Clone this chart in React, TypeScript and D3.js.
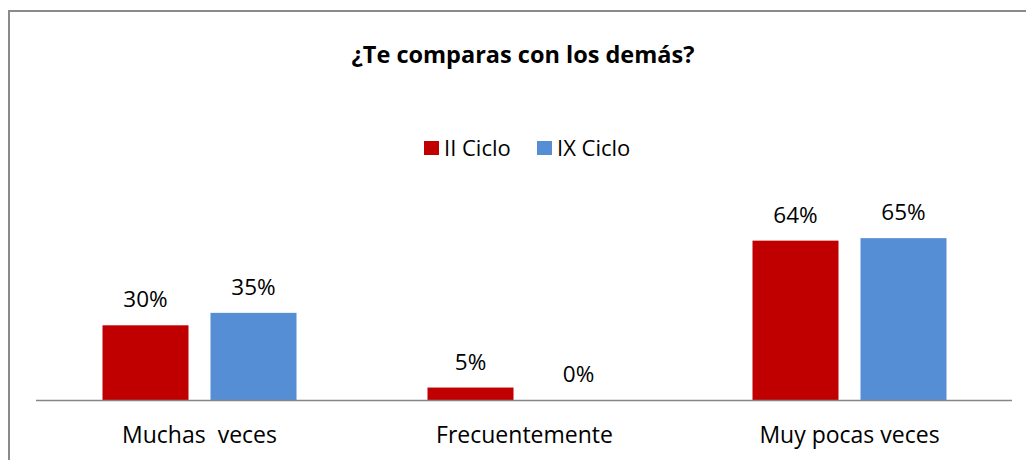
import React from "react";
import * as d3 from "d3";

const categories = ["Muchas  veces", "Frecuentemente", "Muy pocas veces"];
const seriesNames = ["II Ciclo", "IX Ciclo"];
const iiCiclo = [0.30, 0.05, 0.64];
const ixCiclo = [0.35, 0.0, 0.65];
const labelsII = ["30%", "5%", "64%"];
const labelsIX = ["35%", "0%", "65%"];
const colors = ["#C00000", "#558ED5"];
const titleText = "¿Te comparas con los demás?";

const W = 1026;
const H = 460;
const FONT = "'Open Sans', 'DejaVu Sans', sans-serif";

export default function App() {
  const values = [iiCiclo, ixCiclo];
  const labels = [labelsII, labelsIX];
  const x0 = d3.scaleBand<string>().domain(categories).range([37, 1012]).paddingInner(0).paddingOuter(0);
  const bw = x0.bandwidth();
  const x1 = d3.scaleBand<string>().domain(seriesNames).range([65.5, bw - 65.5]).paddingInner(22 / 108).paddingOuter(0);
  const y = d3.scaleLinear().domain([0, 0.7]).range([400, 225.7]);

  return (
    <svg width={W} height={H} style={{ position: "absolute", left: 0, top: 0, background: "#fff" }}>
      <rect x={0} y={0} width={W} height={H} fill="#fff" />
      <path d={`M9,${H + 5} L9,11 L${W + 5},11`} fill="none" stroke="#8a8a8a" strokeWidth={2} />
      <text x={523} y={63} textAnchor="middle" fontFamily={FONT} fontWeight="bold" fontSize={23.5} fill="#000">
        {titleText}
      </text>
      {seriesNames.map((s, i) => {
        const lx = [424, 537][i];
        return (
          <g key={s}>
            <rect x={lx} y={141} width={15} height={14} fill={colors[i]} />
            <text x={lx + 20} y={155.5} fontFamily={FONT} fontSize={22} fill="#000">{s}</text>
          </g>
        );
      })}
      {categories.map((c, ci) => (
        <g key={c} transform={`translate(${x0(c)},0)`}>
          {seriesNames.map((s, si) => {
            const v = values[si][ci];
            const bx = x1(s)!;
            return (
              <g key={s}>
                <rect x={bx} y={y(v)} width={x1.bandwidth()} height={400 - y(v)} fill={colors[si]} />
                <text x={bx + x1.bandwidth() / 2} y={y(v) - 18} textAnchor="middle" fontFamily={FONT} fontSize={22.5} fill="#000">
                  {labels[si][ci]}
                </text>
              </g>
            );
          })}
          <text x={bw / 2} y={443} textAnchor="middle" fontFamily={FONT} fontSize={23} fill="#000" style={{ whiteSpace: "pre" }}>
            {c}
          </text>
        </g>
      ))}
      <line x1={36} x2={1012} y1={400.5} y2={400.5} stroke="#868686" strokeWidth={1.5} />
    </svg>
  );
}
